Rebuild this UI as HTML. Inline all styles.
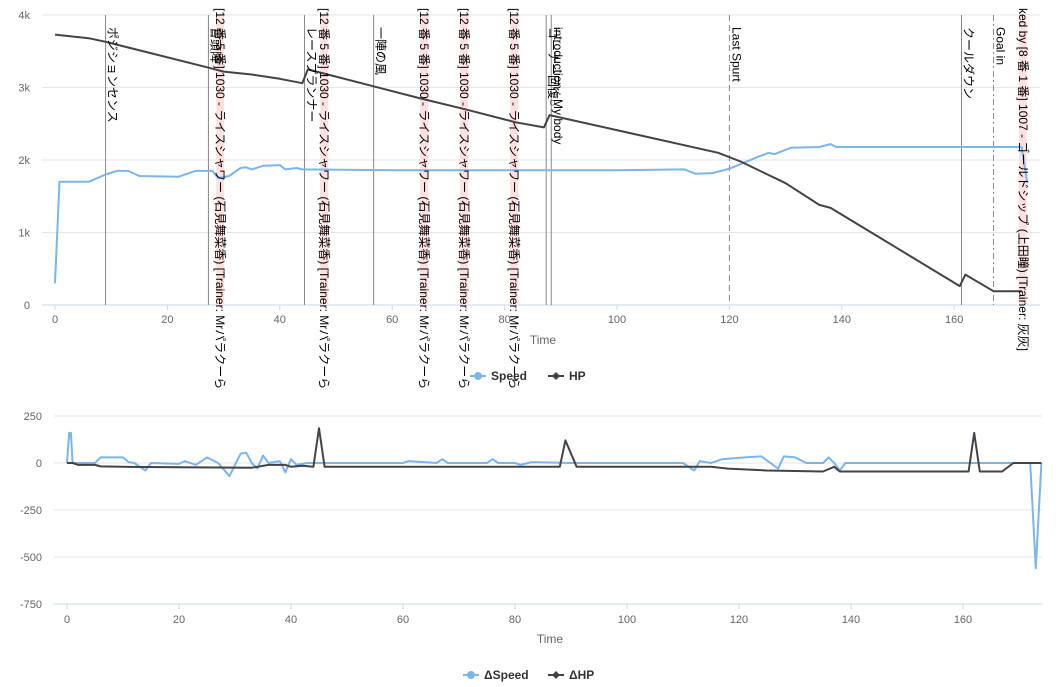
<!DOCTYPE html>
<html><head><meta charset="utf-8"><style>
html,body{margin:0;padding:0;background:#fff;width:1064px;height:687px;overflow:hidden}
svg{display:block;font-family:"Liberation Sans","Noto Sans CJK JP",sans-serif}
</style></head><body>
<svg id="c" width="1064" height="687"></svg>
<script>
const ticksTopX=[0,20,40,60,80,100,120,140,160];
const ticksTopY=[0,1000,2000,3000,4000];
const ticksTopYLabels=['0','1k','2k','3k','4k'];
const hpT=[0,6,9,27,30,35,40,44,45,65,73,82,87,88,118,122,130,136,138,161,162,167,172];
const hpV=[3730,3680,3630,3280,3220,3180,3120,3060,3250,2850,2700,2520,2450,2620,2100,1980,1680,1380,1340,260,420,190,190];
const spT=[0,0.8,6,9,11,13,15,22,25,28,29,31,33,34,35,37,40,41,43,44,60,100,112,114,117,120,125,127,128,131,136,138,139,172,173];
const spV=[300,1700,1700,1800,1850,1850,1780,1770,1850,1850,1750,1780,1890,1900,1870,1920,1930,1870,1890,1870,1860,1860,1870,1810,1820,1880,2040,2100,2080,2170,2180,2220,2180,2180,1680];
const ticksBotY=[250,0,-250,-500,-750];
const dsT=[0,0.4,0.7,1,5,6,10,11,12,14,15,20,21,23,25,27,29,30,31,32,33,34,35,36,38,39,40,41,43,60,61,66,67,68,75,76,77,80,81,83,90,110,112,113,115,117,121,124,127,128,130,132,135,136,137,138,139,172,173,174];
const dsV=[0,160,160,0,0,30,30,5,0,-40,0,-5,10,-10,30,0,-70,-10,50,55,0,-30,40,0,10,-50,20,-10,0,0,10,0,20,0,0,20,0,0,-10,5,0,0,-40,10,0,20,30,35,-30,35,30,0,0,30,0,-40,0,0,-560,0];
const dhT=[0,1,2,5,6,10,33,36,39,40,42,44,45,46,88,89,91,115,118,125,135,137,138,161,162,163,167,169,174];
const dhV=[0,0,-10,-10,-18,-20,-25,-10,-10,-20,-15,-20,185,-20,-20,120,-20,-20,-30,-40,-45,-20,-45,-45,160,-45,-45,0,0];
const markT=[9,27.3,44.4,56.7,87.4,88.3,120,161.3,167];
const markStyle=['','','','','','','6,4','','6,3,2,3'];
const markLabels=['ポジションセンス','冒頭降','レースプランナー','一陣の風','コーナー回復○','introduction : My body','Last Spurt','クールダウン','Goal in'];
const bandT=[29.4,47.9,65.7,72.8,81.7,172.2];
const bandLabels=['[12 番 5 番] 1030 - ライスシャワー (石見舞菜香) [Trainer: Mrパラクーら','[12 番 5 番] 1030 - ライスシャワー (石見舞菜香) [Trainer: Mrパラクーら','[12 番 5 番] 1030 - ライスシャワー (石見舞菜香) [Trainer: Mrパラクーら','[12 番 5 番] 1030 - ライスシャワー (石見舞菜香) [Trainer: Mrパラクーら','[12 番 5 番] 1030 - ライスシャワー (石見舞菜香) [Trainer: Mrパラクーら','ked by [8 番 1 番] 1007 - ゴールドシップ (上田瞳) [Trainer: 灰灰]'];

const NS='http://www.w3.org/2000/svg';
const svg=document.getElementById('c');
function mk(t,a,p){const e=document.createElementNS(NS,t);for(const k in a)e.setAttribute(k,a[k]);(p||svg).appendChild(e);return e;}
const xT=t=>55+t*5.62, yT=v=>305-v*0.0725;
const xB=t=>67+t*5.6, yB=v=>463-v*0.188;

ticksTopY.forEach((v,i)=>{
 const l=mk('line',{x1:42,x2:1040,y1:yT(v),y2:yT(v),stroke:i==0?'#ccd6eb':'#e6e6e6'});
 
 
 const t=mk('text',{x:30,y:yT(v)+4,'text-anchor':'end','font-size':11,fill:'#666'});t.textContent=ticksTopYLabels[i];
 
 
});
ticksTopX.forEach(v=>{
 mk('line',{x1:xT(v),x2:xT(v),y1:305,y2:310,stroke:'#ccd6eb'});
 const t=mk('text',{x:xT(v),y:323,'text-anchor':'middle','font-size':11,fill:'#666'});t.textContent=v;
 
 
});
bandT.forEach((b,i)=>{
 const r=mk('rect',{x:xT(b)-4,y:15,width:8,height:290,fill:'#ffe0e0'});
 
 
});
markT.forEach((m,i)=>{
 const l=mk('line',{x1:xT(m),x2:xT(m),y1:15,y2:305,stroke:'#888','stroke-dasharray':markStyle[i]});
 
 
});
function path(ts,vs,fx,fy,col,w,name){
 const d=ts.map((t,i)=>(i?'L':'M')+fx(t).toFixed(1)+' '+fy(vs[i]).toFixed(1)).join('');
 const p=mk('path',{d:d,fill:'none',stroke:col,'stroke-width':w,'stroke-linejoin':'round'});
 
 
}
path(spT,spV,xT,yT,'#7cb5ec',2,'speed-line');
path(hpT,hpV,xT,yT,'#434348',2,'hp-line');
function vtext(x,y,s,name){
 const t=mk('text',{x:x,y:y,'font-size':12,fill:'#000',transform:'rotate(90 '+x+' '+y+')'});t.textContent=s;
 
 
}
markT.forEach((m,i)=>vtext(xT(m)+3,27,markLabels[i],'event-label'));
bandT.forEach((b,i)=>vtext(xT(b)-4,8,bandLabels[i],'skill-label'));
let tt=mk('text',{x:543,y:344,'text-anchor':'middle','font-size':12,fill:'#666'});tt.textContent='Time';


function legend(x,y,col,label,name){
 const g=mk('g',{});
 
 
 mk('line',{x1:x,x2:x+16,y1:y,y2:y,stroke:col,'stroke-width':2},g);
 if(col=='#7cb5ec')mk('circle',{cx:x+8,cy:y,r:4,fill:col},g);else mk('path',{d:`M${x+8} ${y-4}L${x+12} ${y}L${x+8} ${y+4}L${x+4} ${y}Z`,fill:col},g);
 const t=mk('text',{x:x+21,y:y+4,'font-size':12,'font-weight':'bold',fill:'#333'},g);t.textContent=label;
}
legend(470,376,'#7cb5ec','Speed','legend-speed');
legend(548,376,'#434348','HP','legend-hp');
ticksBotY.forEach(v=>{
 const l=mk('line',{x1:54,x2:1042,y1:yB(v),y2:yB(v),stroke:v==-750?'#ccd6eb':'#e6e6e6'});
 
 
 const t=mk('text',{x:42,y:yB(v)+4,'text-anchor':'end','font-size':11,fill:'#666'});t.textContent=v;
 
 
});
ticksTopX.forEach(v=>{
 mk('line',{x1:xB(v),x2:xB(v),y1:604,y2:609,stroke:'#ccd6eb'});
 const t=mk('text',{x:xB(v),y:623,'text-anchor':'middle','font-size':11,fill:'#666'});t.textContent=v;
 
 
});
path(dsT,dsV,xB,yB,'#7cb5ec',2,'delta-speed-line');
path(dhT,dhV,xB,yB,'#434348',2,'delta-hp-line');
tt=mk('text',{x:550,y:643,'text-anchor':'middle','font-size':12,fill:'#666'});tt.textContent='Time';


legend(463,675,'#7cb5ec','ΔSpeed','legend-delta-speed');
legend(548,675,'#434348','ΔHP','legend-delta-hp');
</script>
</body></html>
